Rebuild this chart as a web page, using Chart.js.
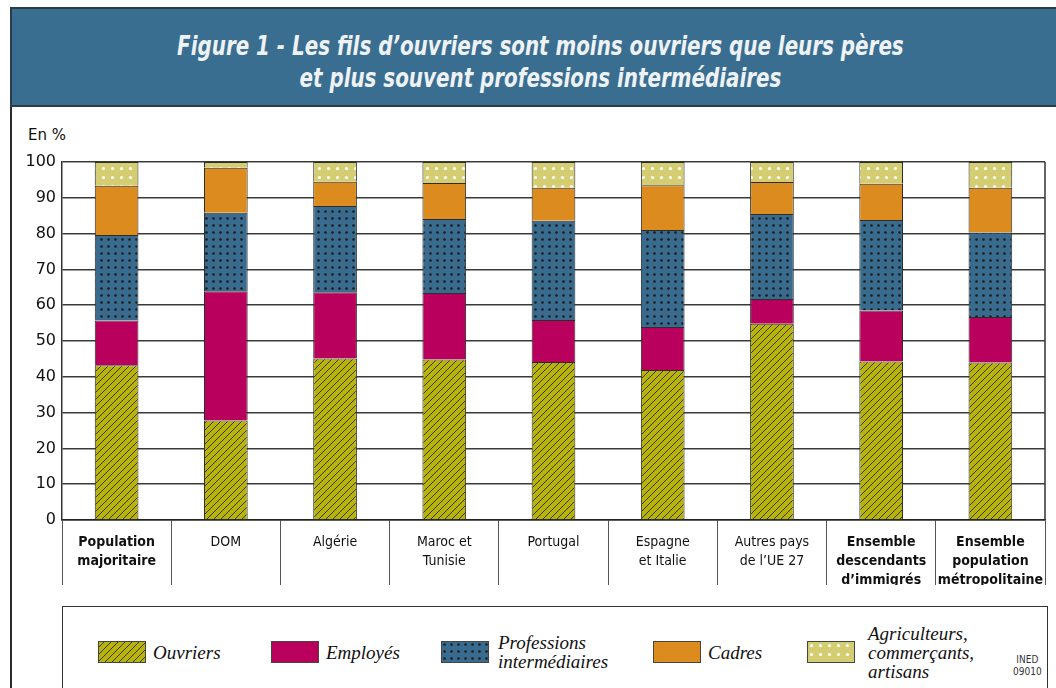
<!DOCTYPE html>
<html lang="fr">
<head>
<meta charset="utf-8">
<script src="https://cdn.jsdelivr.net/npm/chart.js@4.4.1/dist/chart.umd.min.js"></script>
<style>
  html, body { margin: 0; padding: 0; background: #fff; }
  #page { position: relative; width: 1056px; height: 688px; overflow: hidden; }
  #titre {
    position: absolute; left: 10px; top: 7px; width: 1050px; height: 100px;
    background: #3a6e90; border-top: 2px solid #2b3d4c; border-bottom: 2px solid #2b3d4c;
    border-left: 2px solid #2b3d4c;
    color: #eef2f5; text-align: center; box-sizing: border-box;
    font-family: "Liberation Sans Narrow", "DejaVu Sans Condensed", sans-serif;
    font-style: italic; font-weight: bold; font-size: 26px; line-height: 32px; padding-top: 21px;
  }
  #titre span { display: inline-block; transform: scaleX(0.85); transform-origin: 50% 50%; margin-left: 8px; }
  #cadre { position: absolute; left: 10px; top: 107px; width: 2px; height: 600px; background: #2b2b2b; }
  #unite { position: absolute; left: 28px; top: 126px; font: 15px "DejaVu Sans", sans-serif; color: #111; }
  #graph { position: absolute; left: 0; top: 110px; }
  #legende {
    position: absolute; left: 62px; top: 606px; width: 986px; height: 120px;
    border: 1.5px solid #333; box-sizing: border-box;
  }
  .item { position: absolute; font-family: "Liberation Serif", "DejaVu Serif", serif; font-style: italic;
          font-size: 19px; line-height: 19px; color: #111; }
  .sw { position: absolute; }
  #ined { position: absolute; left: 1013px; top: 654px; font: 10px "DejaVu Sans Condensed", sans-serif;
          line-height: 12px; color: #333; text-align: center; }
</style>
</head>
<body>
<div id="page">
  <div id="titre"><span>Figure 1 - Les fils d’ouvriers sont moins ouvriers que leurs pères<br>et plus souvent professions intermédiaires</span></div>
  <div id="cadre"></div>
  <div id="unite">En %</div>
  <canvas id="graph" width="1056" height="490"></canvas>
  <div id="legende"></div>
  <div id="ined">INED<br>09010</div>
</div>
<script>
// Catégories (origine)
const categories = [
  ['Population', 'majoritaire'],
  'DOM',
  'Algérie',
  ['Maroc et', 'Tunisie'],
  'Portugal',
  ['Espagne', 'et Italie'],
  ['Autres pays', 'de l’UE 27'],
  ['Ensemble', 'descendants', 'd’immigrés'],
  ['Ensemble', 'population', 'métropolitaine']
];
const categoriesGras = [0, 7, 8];

// Valeurs en %
const ouvriers      = [43.2, 27.8, 45.1, 44.8, 44.1, 41.9, 54.8, 44.3, 44.0];
const employes      = [12.5, 36.1, 18.5, 18.6, 11.8, 12.0,  6.9, 14.2, 12.7];
const professions   = [23.9, 21.9, 24.1, 20.7, 27.7, 27.1, 23.8, 25.3, 23.6];
const cadres        = [13.8, 12.6,  6.8, 10.0,  9.2, 12.5,  8.9, 10.1, 12.5];
const agriculteurs  = [ 6.6,  1.6,  5.5,  5.9,  7.2,  6.5,  5.6,  6.1,  7.2];

const yTicks = [0, 10, 20, 30, 40, 50, 60, 70, 80, 90, 100];

// Motifs de remplissage
function motifHachure() {
  const c = document.createElement('canvas');
  c.width = 7; c.height = 7;
  const g = c.getContext('2d');
  g.fillStyle = '#b7b30b';
  g.fillRect(0, 0, 7, 7);
  g.strokeStyle = '#3a3a1a';
  g.lineWidth = 1;
  g.beginPath();
  g.moveTo(-1, 8); g.lineTo(8, -1);
  g.moveTo(-1, 1); g.lineTo(1, -1);
  g.moveTo(6, 8); g.lineTo(8, 6);
  g.stroke();
  return g.createPattern(c, 'repeat');
}
function motifPoints(fond, point, pas, rayon) {
  const c = document.createElement('canvas');
  c.width = pas * 2; c.height = pas * 2;
  const g = c.getContext('2d');
  g.fillStyle = fond;
  g.fillRect(0, 0, c.width, c.height);
  g.fillStyle = point;
  [[pas / 2, pas / 2], [pas * 1.5, pas * 1.5], [pas * 1.5, pas / 2], [pas / 2, pas * 1.5]].forEach(p => {
    g.beginPath(); g.arc(p[0], p[1], rayon, 0, Math.PI * 2); g.fill();
  });
  return g.createPattern(c, 'repeat');
}

const series = [
  { label: 'Ouvriers', data: ouvriers, fill: motifHachure() },
  { label: 'Employés', data: employes, fill: '#b9005d' },
  { label: ['Professions', 'intermédiaires'], data: professions, fill: motifPoints('#386b8e', '#1c1c1c', 7, 1.3) },
  { label: 'Cadres', data: cadres, fill: '#dc8c1f' },
  { label: ['Agriculteurs,', 'commerçants,', 'artisans'], data: agriculteurs, fill: motifPoints('#d4cd72', '#ffffff', 9, 1.6) }
];

// Bordure droite de la zone de tracé
const bordure = {
  id: 'bordure',
  afterDraw(chart) {
    const a = chart.chartArea, g = chart.ctx;
    g.save();
    g.strokeStyle = '#333';
    g.lineWidth = 1.5;
    g.beginPath();
    g.moveTo(a.right, a.top);
    g.lineTo(a.right, a.bottom);
    g.stroke();
    g.restore();
  }
};

new Chart(document.getElementById('graph'), {
  type: 'bar',
  data: {
    labels: categories,
    datasets: series.map(s => ({
      label: Array.isArray(s.label) ? s.label.join(' ') : s.label,
      data: s.data,
      backgroundColor: s.fill,
      borderColor: '#2d2d2d',
      borderWidth: 1,
      barPercentage: 0.8,
      categoryPercentage: 0.5
    }))
  },
  options: {
    responsive: false,
    animation: false,
    layout: { padding: { left: 10, right: 11, top: 52, bottom: 15 } },
    plugins: { legend: { display: false }, tooltip: { enabled: false } },
    scales: {
      x: {
        stacked: true,
        afterFit: s => { s.height = 65; },
        border: { display: true, color: '#222', width: 1.5 },
        grid: { offset: true, drawOnChartArea: false, drawTicks: true, tickLength: 65, color: '#555', lineWidth: 1 },
        ticks: {
          autoSkip: false, maxRotation: 0, padding: -52, color: '#111',
          font: ctx => ({
            family: '"DejaVu Sans Condensed", "DejaVu Sans", sans-serif',
            size: 14,
            lineHeight: 1.35,
            weight: categoriesGras.includes(ctx.index) ? 'bold' : 'normal'
          })
        }
      },
      y: {
        stacked: true,
        min: 0, max: 100,
        afterFit: s => { s.width = 52; },
        afterBuildTicks: s => { s.ticks = yTicks.map(v => ({ value: v })); },
        border: { display: true, color: '#333', width: 1.5 },
        grid: { color: '#3a3a3a', lineWidth: 1.5, drawTicks: false },
        ticks: { padding: 6, color: '#111', font: { family: '"DejaVu Sans", sans-serif', size: 16 } }
      }
    }
  },
  plugins: [bordure]
});

// Légende HTML avec les mêmes motifs
const legende = document.getElementById('legende');
const posLegende = [
  { sw: 35, tx: 90, lignes: 1 },
  { sw: 208, tx: 263, lignes: 1 },
  { sw: 378, tx: 435, lignes: 2 },
  { sw: 590, tx: 645, lignes: 1 },
  { sw: 744, tx: 805, lignes: 3 }
];
series.forEach((s, i) => {
  const p = posLegende[i];
  const c = document.createElement('canvas');
  c.width = 48; c.height = 22;
  c.className = 'sw';
  c.style.left = p.sw + 'px';
  c.style.top = '34px';
  const g = c.getContext('2d');
  g.fillStyle = s.fill;
  g.fillRect(0, 0, 48, 22);
  g.strokeStyle = '#444';
  g.lineWidth = 1;
  g.strokeRect(0.5, 0.5, 47, 21);
  legende.appendChild(c);
  const t = document.createElement('div');
  t.className = 'item';
  const lignes = Array.isArray(s.label) ? s.label : [s.label];
  t.innerHTML = lignes.join('<br>');
  t.style.left = p.tx + 'px';
  t.style.top = (45 - lignes.length * 9.5) + 'px';
  legende.appendChild(t);
});
</script>
</body>
</html>
